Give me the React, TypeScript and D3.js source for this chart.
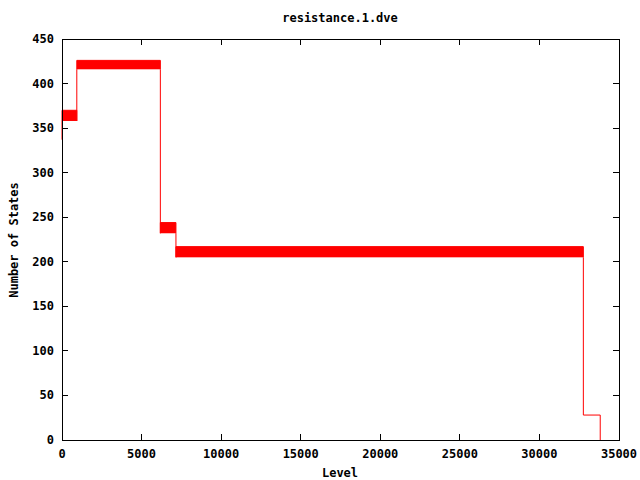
import React from "react";
import * as d3 from "d3";

// Bands of rapidly alternating values (level range, low/high number of states)
const bandStart = [0, 930, 6180, 7160];
const bandEnd = [930, 6180, 7160, 32760];
const bandLow = [358, 416, 232, 205];
const bandHigh = [370, 426, 244, 217];
// Single first point and tail of the step line
const headLevels = [0];
const headStates = [337];
const tailLevels = [32760, 33820, 33820];
const tailStates = [28, 28, 0];

const xTicks = [0, 5000, 10000, 15000, 20000, 25000, 30000, 35000];
const yTicks = [0, 50, 100, 150, 200, 250, 300, 350, 400, 450];

const W = 640;
const H = 480;
const L = 62;
const R = 619;
const T = 39;
const B = 440;
const FONT = "'DejaVu Sans Mono', monospace";

export default function App() {
  const x = d3.scaleLinear().domain([0, 35000]).range([L, R]);
  const y = d3.scaleLinear().domain([0, 450]).range([B, T]);
  const red = "#ff0000";

  // connecting step line
  const pts: [number, number][] = [];
  pts.push([headLevels[0], headStates[0]]);
  for (let i = 0; i < bandStart.length; i++) {
    pts.push([bandStart[i], bandLow[i]]);
    pts.push([bandStart[i], bandHigh[i]]);
    pts.push([bandEnd[i], bandHigh[i]]);
    pts.push([bandEnd[i], bandLow[i]]);
  }
  for (let i = 0; i < tailLevels.length; i++) pts.push([tailLevels[i], tailStates[i]]);
  const line = d3
    .line<[number, number]>()
    .x((d) => x(d[0]))
    .y((d) => y(d[1]));

  return (
    <svg width={W} height={H} style={{ display: "block", position: "absolute", left: 0, top: 0 }}>
      <rect x={0} y={0} width={W} height={H} fill="#fff" />
      {/* bands */}
      {bandStart.map((s, i) => (
        <rect
          key={i}
          x={x(s)}
          y={y(bandHigh[i])}
          width={x(bandEnd[i]) - x(s)}
          height={y(bandLow[i]) - y(bandHigh[i])}
          fill={red}
        />
      ))}
      <path d={line(pts) || ""} fill="none" stroke={red} strokeWidth={1} />
      {/* frame */}
      <rect x={L} y={T} width={R - L} height={B - T} fill="none" stroke="#000" strokeWidth={1} shapeRendering="crispEdges" />
      {/* ticks */}
      {xTicks.map((t) => (
        <g key={"x" + t}>
          <line x1={x(t)} x2={x(t)} y1={B} y2={B - 6} stroke="#000" shapeRendering="crispEdges" />
          <line x1={x(t)} x2={x(t)} y1={T} y2={T + 6} stroke="#000" shapeRendering="crispEdges" />
          <text x={x(t)} y={458} textAnchor="middle" fontFamily={FONT} fontWeight="bold" fontSize={12}>
            {t}
          </text>
        </g>
      ))}
      {yTicks.map((t) => (
        <g key={"y" + t}>
          <line x1={L} x2={L + 6} y1={y(t)} y2={y(t)} stroke="#000" shapeRendering="crispEdges" />
          <line x1={R} x2={R - 6} y1={y(t)} y2={y(t)} stroke="#000" shapeRendering="crispEdges" />
          <text x={54} y={y(t) + 4} textAnchor="end" fontFamily={FONT} fontWeight="bold" fontSize={12}>
            {t}
          </text>
        </g>
      ))}
      <text x={340} y={22} textAnchor="middle" fontFamily={FONT} fontWeight="bold" fontSize={12}>
        resistance.1.dve
      </text>
      <text x={340} y={477} textAnchor="middle" fontFamily={FONT} fontWeight="bold" fontSize={12}>
        Level
      </text>
      <text
        transform={`translate(18,240) rotate(-90)`}
        textAnchor="middle"
        fontFamily={FONT}
        fontWeight="bold"
        fontSize={12}
      >
        Number of States
      </text>
    </svg>
  );
}
